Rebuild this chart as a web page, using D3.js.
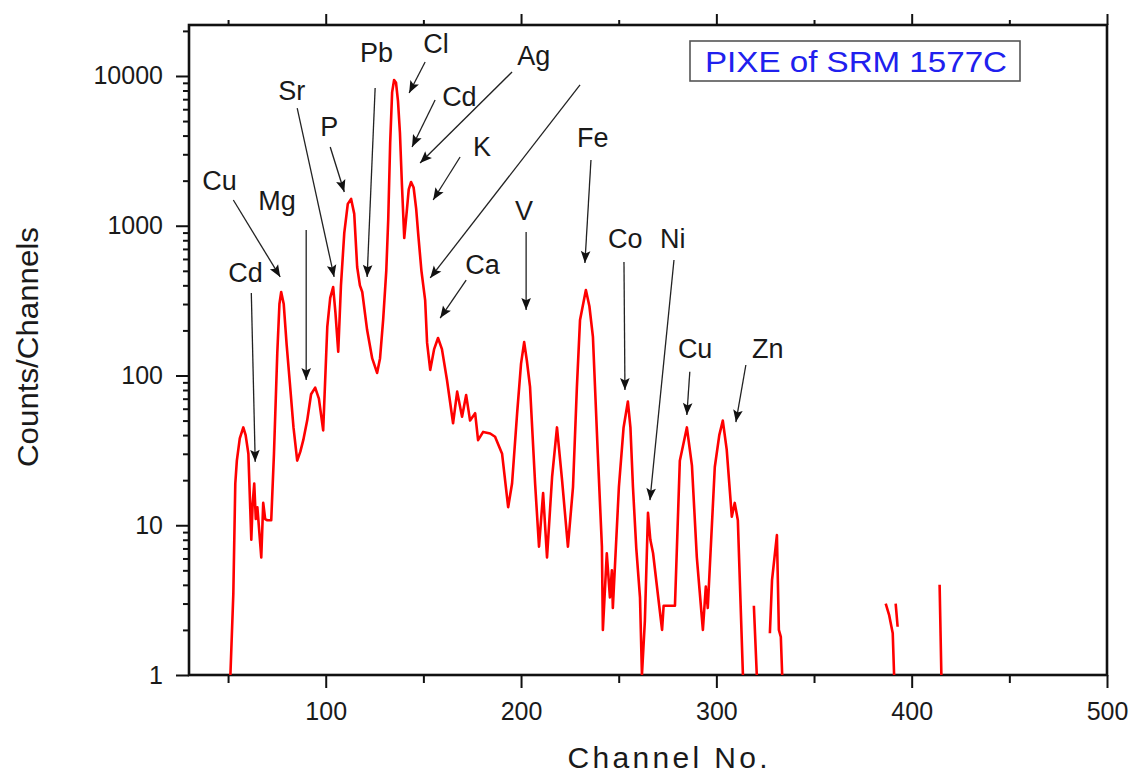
<!DOCTYPE html>
<html>
<head>
<meta charset="utf-8">
<script src="https://cdn.jsdelivr.net/npm/d3@7"></script>
<style>
  body { margin: 0; background: #fff; }
  text { font-family: 'Liberation Sans', Arial, sans-serif; }
</style>
</head>
<body>
<svg id="chart"></svg>
<script>
// PIXE spectrum of SRM 1577C (null = no counts)
const channels = [
	51.2, 52.7, 53.7, 54.5, 56, 57.8, 59, 60.4, 61.9, 62.6, 63.4, 64.2, 65.0, 66, 67.0, 68.0, 69, 70.1, 72.1, 73.5,
	75.2, 76.3, 77.2, 78.5, 80, 81.8, 83.5, 85.4, 87, 88.5, 90.5, 92.5, 94.6, 96.5, 98.7, 100.8, 102.3, 103.8, 105, 106.4,
	107.8, 109.5, 111.3, 113, 114.6, 116.1, 117.5, 118.7, 121.2, 123.8, 126.3, 127.8, 129.4, 131, 132, 133, 134, 135, 136, 137,
	138, 139, 140.2, 141.5, 142.5, 143.7, 145, 146.3, 147.3, 149, 150.9, 151.9, 153.5, 155.5, 157.5, 159.5, 162.1, 165.2, 167.3, 169.8,
	171.9, 173.9, 176.5, 178, 180.6, 184.2, 186.7, 190.3, 193.4, 195.4, 198, 200, 201.6, 203, 204.6, 207.2, 209.2, 211.3, 213.3, 215.9,
	218.4, 221, 224, 226.6, 228.6, 230.2, 233.2, 235, 236.8, 239.3, 241.4, 241.9, 243.9, 245.5, 246.5, 247, 250.1, 252.5, 254.7, 256,
	257.3, 259, 260.9, 261.9, 263.4, 265, 266.2, 267.6, 270, 272.2, 273, 278.8, 281.3, 284.9, 287.5, 290, 293.1, 294.6, 295.6, 299.2,
	301.5, 303.3, 305.3, 307.9, 309.4, 311, 313.6, 316, 319.2, 320.7, 324, 327.4, 328.5, 331, 332, 333, 333.7, 360, 386.7, 388.5,
	390.3, 391, 391.4, 391.8, 392.8, 400, 414.3, 415.2
];
const counts = [
	1, 3.5, 19, 27, 38, 45, 40, 30, 8, 14, 19, 11, 13.2, 9, 6.1, 14.1, 11, 10.8, 10.8, 30,
	141, 300, 361, 300, 160, 84, 45, 27, 31, 37, 50, 75, 83, 70, 43, 211, 330, 390, 260, 144,
	400, 895, 1400, 1510, 1200, 530, 400, 361, 201, 130, 104, 130, 235, 500, 1100, 3600, 7800, 9400, 9000, 6800,
	4160, 1900, 828, 1250, 1750, 1960, 1800, 1300, 895, 500, 319, 165, 109, 150, 178, 150, 93, 48, 78, 53,
	74, 50, 56, 37, 42, 41, 39, 30, 13.2, 19, 56, 120, 167, 125, 84, 19, 7.2, 16.4, 6.1, 21,
	45, 20, 7.2, 18, 84, 235, 372, 290, 181, 30, 7.2, 2, 6.5, 3.3, 5, 2.8, 18, 45, 67, 45,
	18, 7, 3.3, 1, 2.3, 12.1, 8, 6.5, 3.5, 2, 2.9, 2.9, 27, 45, 25, 6.1, 2, 3.9, 2.8, 24.5,
	40, 50, 32, 11.4, 14.1, 10.8, 1, null, 2.9, 1, null, 1.9, 4.3, 8.6, 2, 1.8, 1, null, 3, 2.5,
	1.9, 1, null, 3, 2.1, null, 4, 1
];

const xMajorTicks = [100, 200, 300, 400, 500];
const xMinorTicks = [50, 150, 250, 350, 450];
const yMajorTicks = [1, 10, 100, 1000, 10000];
const yMinorTicks = [2, 3, 4, 5, 6, 7, 8, 9, 20, 30, 40, 50, 60, 70, 80, 90,
	200, 300, 400, 500, 600, 700, 800, 900, 2000, 3000, 4000, 5000, 6000, 7000, 8000, 9000, 20000];

// element labels: text, channel, counts (left/baseline of the text)
const peakLabels = [
	['Pb', 117.6, 12400], ['Cl', 149.9, 14250], ['Ag', 198.0, 11840], ['Sr', 75.7, 6920],
	['Cd', 159.6, 6310], ['P', 97.2, 3975], ['K', 175.4, 2924], ['Fe', 228.6, 3357],
	['Cu', 36.8, 1733], ['Mg', 65.5, 1274], ['V', 196.9, 1092], ['Co', 244.5, 710],
	['Ni', 271.1, 710], ['Cd', 50.1, 421], ['Ca', 171.4, 476], ['Cu', 280.3, 131], ['Zn', 318.2, 131]
];
// arrows: from [channel, counts] to [channel, counts]
const peakArrows = [
	[150.9, 12400, 142.7, 7700], [125.3, 8320, 121.2, 455], [156.0, 6920, 144.2, 3357],
	[195.4, 10640, 148.3, 2624], [168.8, 2878, 155.0, 1486], [230.2, 8710, 153.5, 448],
	[85.4, 6110, 104.3, 455], [102.3, 3357, 109.5, 1680], [52.7, 1486, 76.7, 455],
	[90.0, 937, 90.0, 93.3], [61.9, 356, 63.9, 26.5], [171.9, 434, 158.6, 242],
	[202.6, 908, 202.6, 274], [235.8, 2748, 232.7, 564], [252.7, 573, 253.2, 80],
	[278.3, 590, 266.0, 14.7], [286.4, 106, 284.9, 54.5], [315.1, 117.5, 310.0, 48.9]
];

const legendText = 'PIXE of SRM 1577C';

const W = 1134, H = 776;
const margin = {left: 189, right: 27, top: 25, bottom: 101};
const plotW = W - margin.left - margin.right, plotH = H - margin.top - margin.bottom;

const svg = d3.select('svg#chart').attr('width', W).attr('height', H);

const defs = svg.append('defs');
defs.append('clipPath').attr('id', 'plotClip')
	.append('rect').attr('width', plotW).attr('height', plotH);
defs.append('marker').attr('id', 'arrow')
	.attr('viewBox', '0 0 10 10').attr('refX', 10).attr('refY', 5)
	.attr('markerWidth', 14).attr('markerHeight', 12)
	.attr('markerUnits', 'userSpaceOnUse').attr('orient', 'auto')
	.append('path').attr('d', 'M0,1 L10,5 L0,9 L2,5 Z').attr('fill', '#111');

const g = svg.append('g').attr('transform', `translate(${margin.left},${margin.top})`);

const x = d3.scaleLinear().domain([30, 500]).range([0, plotW]);
const y = d3.scaleLog().domain([1, 21900]).range([plotH, 0]);

// axes
const fontTick = 25;
function styleAxis(sel) {
	sel.select('.domain').remove();
	sel.selectAll('.tick line').attr('stroke', '#111').attr('stroke-width', 2);
	sel.selectAll('.tick text').attr('fill', '#1a1a1a').attr('font-size', fontTick + 'px')
		.attr('font-family', "'Liberation Sans', Arial, sans-serif");
}

g.append('g').attr('transform', `translate(0,${plotH})`)
	.call(d3.axisBottom(x).tickValues(xMajorTicks).tickSize(13).tickPadding(14).tickFormat(d3.format('d')))
	.call(styleAxis);
g.append('g').attr('transform', `translate(0,${plotH})`)
	.call(d3.axisBottom(x).tickValues(xMinorTicks).tickSize(8).tickFormat(''))
	.call(styleAxis);
g.append('g')
	.call(d3.axisTop(x).tickValues(xMajorTicks).tickSize(11).tickFormat(''))
	.call(styleAxis);
g.append('g')
	.call(d3.axisTop(x).tickValues(xMinorTicks).tickSize(5).tickFormat(''))
	.call(styleAxis);
g.append('g')
	.call(d3.axisLeft(y).tickValues(yMajorTicks).tickSize(13).tickPadding(13).tickFormat(d3.format('d')))
	.call(styleAxis);
g.append('g')
	.call(d3.axisLeft(y).tickValues(yMinorTicks.filter(v => v <= y.domain()[1])).tickSize(6).tickFormat(''))
	.call(styleAxis);

// frame
g.append('rect').attr('width', plotW).attr('height', plotH)
	.attr('fill', 'none').attr('stroke', '#111').attr('stroke-width', 2.6);

// spectrum
const spectrum = channels.map((c, i) => [c, counts[i]]);
const line = d3.line()
	.defined(d => d[1] !== null)
	.x(d => x(d[0]))
	.y(d => y(d[1]));

g.append('path').datum(spectrum)
	.attr('clip-path', 'url(#plotClip)')
	.attr('fill', 'none')
	.attr('stroke', '#ff0000')
	.attr('stroke-width', 2.6)
	.attr('stroke-linejoin', 'round')
	.attr('d', line);

// annotation arrows and labels
g.append('g').selectAll('line').data(peakArrows).join('line')
	.attr('x1', d => x(d[0])).attr('y1', d => y(d[1]))
	.attr('x2', d => x(d[2])).attr('y2', d => y(d[3]))
	.attr('stroke', '#222').attr('stroke-width', 1.3)
	.attr('marker-end', 'url(#arrow)');

g.append('g').selectAll('text').data(peakLabels).join('text')
	.attr('x', d => x(d[1])).attr('y', d => y(d[2]))
	.attr('font-size', '27px').attr('fill', '#1a1a1a')
	.text(d => d[0]);

// legend box
const legend = svg.append('g').attr('transform', 'translate(690,41)');
legend.append('rect').attr('width', 330).attr('height', 40)
	.attr('fill', '#fff').attr('stroke', '#555').attr('stroke-width', 1.6);
legend.append('text').attr('x', 15).attr('y', 31)
	.attr('font-size', '30px').attr('fill', '#2020ee')
	.attr('textLength', 302).attr('lengthAdjust', 'spacingAndGlyphs')
	.text(legendText);

// axis titles
svg.append('text')
	.attr('x', margin.left + x(275)).attr('y', 768)
	.attr('text-anchor', 'middle').attr('font-size', '30px').attr('fill', '#1a1a1a')
	.attr('textLength', 200).attr('lengthAdjust', 'spacing')
	.text('Channel No.');
svg.append('text')
	.attr('transform', 'translate(38,347) rotate(-90)')
	.attr('text-anchor', 'middle').attr('font-size', '30px').attr('fill', '#1a1a1a')
	.attr('textLength', 240).attr('lengthAdjust', 'spacingAndGlyphs')
	.text('Counts/Channels');
</script>
</body>
</html>
